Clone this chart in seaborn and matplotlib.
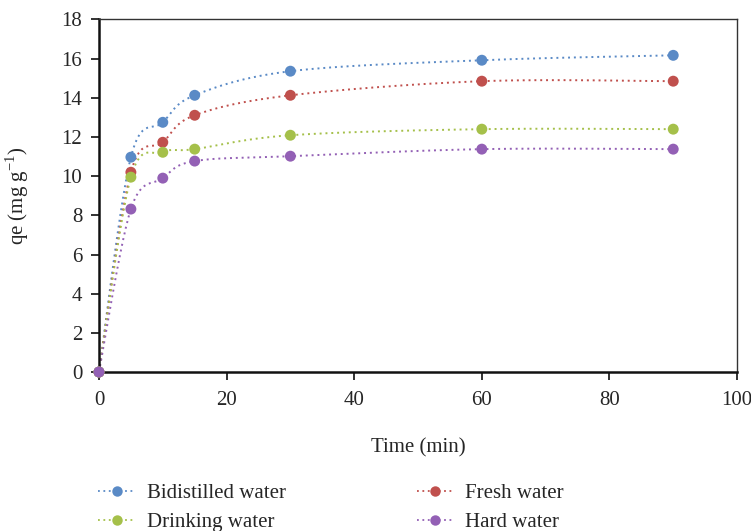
import numpy as np
import pandas as pd
import matplotlib
matplotlib.use("Agg")
import matplotlib.pyplot as plt
from matplotlib.lines import Line2D
import seaborn as sns

# Adsorption kinetics: qe versus contact time for four water matrices
time_min = [0, 5, 10, 15, 30, 60, 90]
bidistilled = [0, 10.97, 12.75, 14.13, 15.36, 15.92, 16.17]
fresh = [0, 10.2, 11.73, 13.11, 14.13, 14.85, 14.85]
drinking = [0, 9.95, 11.22, 11.38, 12.09, 12.4, 12.4]
hard = [0, 8.32, 9.9, 10.77, 11.02, 11.38, 11.38]

series_names = ["Bidistilled water", "Fresh water", "Drinking water", "Hard water"]
series_values = [bidistilled, fresh, drinking, hard]
colors = ["#5A8AC6", "#C0504D", "#A5C04A", "#9360B5"]

x_ticks = [0, 20, 40, 60, 80, 100]
y_ticks = [0, 2, 4, 6, 8, 10, 12, 14, 16, 18]


def smooth_curve(xs, ys, n=40):
    """Bezier smoothing through the points (spreadsheet-style smoothed line)."""
    p = np.column_stack([xs, ys]).astype(float)
    m = len(p)
    out = []
    for i in range(m - 1):
        p0, p3 = p[i], p[i + 1]
        prev = p[i - 1] if i > 0 else p[i]
        nxt = p[i + 2] if i + 2 < m else p[i + 1]
        c1 = p0 + (p3 - prev) / 6.0
        c2 = p3 - (nxt - p0) / 6.0
        t = np.linspace(0, 1, n, endpoint=(i == m - 2))[:, None]
        seg = ((1 - t) ** 3) * p0 + 3 * ((1 - t) ** 2) * t * c1 \
            + 3 * (1 - t) * t ** 2 * c2 + t ** 3 * p3
        out.append(seg)
    return np.vstack(out)


sns.set_theme(style="white")
plt.rcParams["font.family"] = ["Liberation Serif", "DejaVu Serif"]
plt.rcParams["mathtext.fontset"] = "custom"
plt.rcParams["mathtext.rm"] = "Liberation Serif"

FS = 15

fig = plt.figure(figsize=(7.51, 5.31), dpi=100)
ax = fig.add_axes([0.1318, 0.2994, 0.8496, 0.6639])

points = pd.DataFrame({
    "time": np.tile(time_min, len(series_names)),
    "qe": np.concatenate(series_values),
    "series": np.repeat(series_names, len(time_min)),
})

curves = []
for name, vals in zip(series_names, series_values):
    c = smooth_curve(time_min, vals)
    curves.append(pd.DataFrame({"time": c[:, 0], "qe": c[:, 1], "series": name}))
curves = pd.concat(curves, ignore_index=True)

palette = dict(zip(series_names, colors))
for name in series_names:
    sub = curves[curves["series"] == name]
    sns.lineplot(data=sub, x="time", y="qe", color=palette[name], sort=False,
                 estimator=None, lw=1.4, dashes=False, ax=ax, legend=False)
    ax.lines[-1].set_linestyle((0, (1.0, 2.0)))

sns.scatterplot(data=points, x="time", y="qe", hue="series", palette=palette,
                s=62, edgecolor="none", ax=ax, legend=False, zorder=5, clip_on=False)

ax.set_xlim(0, 100)
ax.set_ylim(0, 18)
ax.set_xticks(x_ticks)
ax.set_yticks(y_ticks)
ax.set_xlabel("Time (min)", fontsize=FS, labelpad=20)
ax.set_ylabel("qe (mg g$^{\\mathregular{-1}}$)", fontsize=FS, labelpad=22)
ax.tick_params(axis="both", which="both", direction="out", length=6, width=1.3,
               color="#222222", labelsize=FS, bottom=True, left=True)
ax.tick_params(axis="x", pad=8)
ax.tick_params(axis="y", pad=6)

for side in ["left", "bottom"]:
    ax.spines[side].set_color("#111111")
    ax.spines[side].set_linewidth(1.8)
for side in ["top", "right"]:
    ax.spines[side].set_color("#333333")
    ax.spines[side].set_linewidth(1.0)

handles = [
    Line2D([0], [0], color=c, lw=1.3, linestyle=(0, (1.0, 2.0)), marker="o",
           markersize=7.5, markeredgewidth=0)
    for c in colors
]
order = [0, 2, 1, 3]
fig.legend([handles[i] for i in order], [series_names[i] for i in order],
           loc="upper left", bbox_to_anchor=(0.106, 0.125), ncol=2,
           frameon=False, fontsize=FS, handlelength=1.75, handletextpad=0.6,
           columnspacing=6.25, labelspacing=0.45,
           bbox_transform=fig.transFigure)

fig.savefig("out.png", dpi=100)
